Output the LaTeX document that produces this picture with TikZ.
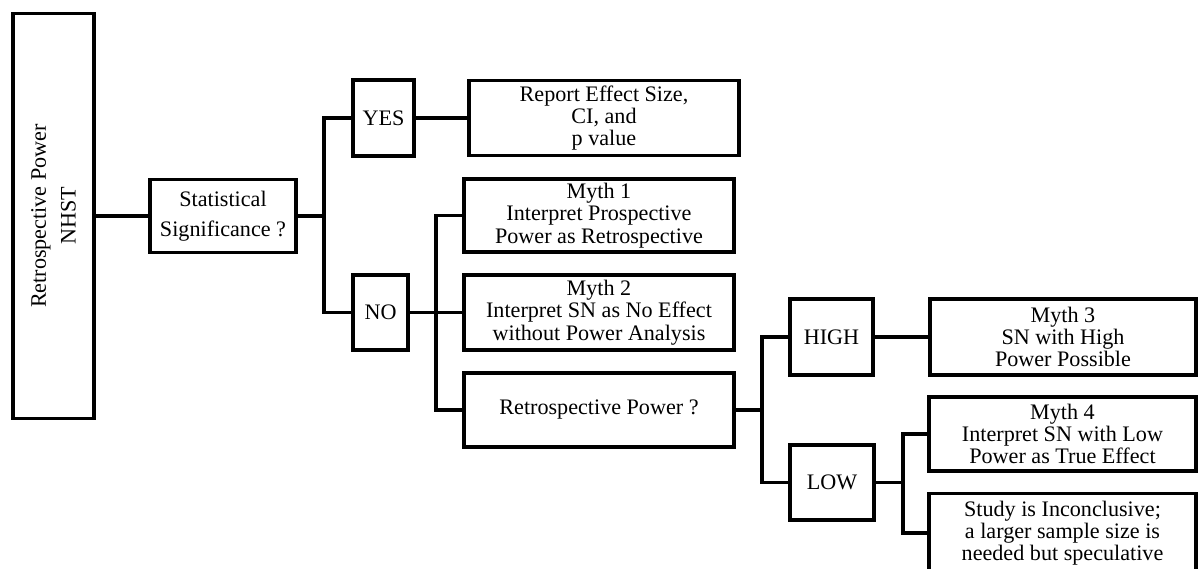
\documentclass[tikz,border=0pt]{standalone}
\usepackage{fontspec}
\setmainfont{Liberation Serif}
\usepackage{tikz}
\usetikzlibrary{calc}
\tikzset{
    box/.style={draw, line width=2.2pt, align=center, inner sep=0pt,
        font=\fontsize{12.6pt}{12.7pt}\selectfont},
    tallbox/.style={box, font=\fontsize{12.6pt}{17pt}\selectfont},
    boxsize/.style 2 args={minimum width=#1*0.02cm, minimum height=#2*0.02cm},
    link/.style={line width=2.2pt, line join=miter},
}

\begin{document}
\begin{tikzpicture}[x=0.02cm, y=-0.02cm]
    \useasboundingbox (0,0) rectangle (1200,568);
    % boxes
    \node (root) [tallbox, boxsize={405}{81}, rotate=90] at (53.5, 216) {Retrospective Power\\NHST};
    \node (sig) [tallbox, boxsize={146}{73}] at (223, 216) {Statistical\\Significance ?};
    \node (yes) [box, boxsize={61}{76}] at (383.5, 118) {YES};
    \node (no) [box, boxsize={55}{75}] at (380.5, 312.5) {NO};
    \node (report) [box, boxsize={270}{75}] at (604, 118) {Report Effect Size,\\CI, and\\p value};
    \node (myth1) [box, boxsize={270}{73}] at (599, 215.5) {Myth 1\\Interpret Prospective\\Power as Retrospective};
    \node (myth2) [box, boxsize={270}{75}] at (599, 312.5) {Myth 2\\Interpret SN as No Effect\\without Power Analysis};
    \node (retro) [box, boxsize={270}{74}] at (599, 410) {Retrospective Power ?};
    \node (high) [box, boxsize={83}{76}] at (831.5, 337) {HIGH};
    \node (low) [box, boxsize={84}{75}] at (832, 482.5) {LOW};
    \node (myth3) [box, boxsize={266}{76}] at (1063, 337) {Myth 3\\SN with High\\Power Possible};
    \node (myth4) [box, boxsize={267}{74}] at (1062.5, 434) {Myth 4\\Interpret SN with Low\\Power as True Effect};
    \node (study) [box, boxsize={267}{79}] at (1062.5, 533) {Study is Inconclusive;\\a larger sample size is\\needed but speculative};
    % branch points
    \coordinate (split1) at (324, 216);
    \coordinate (split2) at (436, 312.5);
    \coordinate (split3) at (762, 410);
    \coordinate (split4) at (903, 482.5);
    % connectors
    \draw[link] (root) -- (sig);
    \draw[link] (sig) -- (split1);
    \draw[link] (split1) |- (yes.west);
    \draw[link] (split1) |- (no.west);
    \draw[link] (yes) -- (report);
    \draw[link] (no) -- (myth2);
    \draw[link] (split2) |- (myth1.west);
    \draw[link] (split2) |- (retro.west);
    \draw[link] (retro) -- (split3);
    \draw[link] (split3) |- (high.west);
    \draw[link] (split3) |- (low.west);
    \draw[link] (high) -- (myth3);
    \draw[link] (low) -- (split4);
    \draw[link] (split4) |- (myth4.west);
    \draw[link] (split4) |- (study.west);
\end{tikzpicture}
\end{document}
